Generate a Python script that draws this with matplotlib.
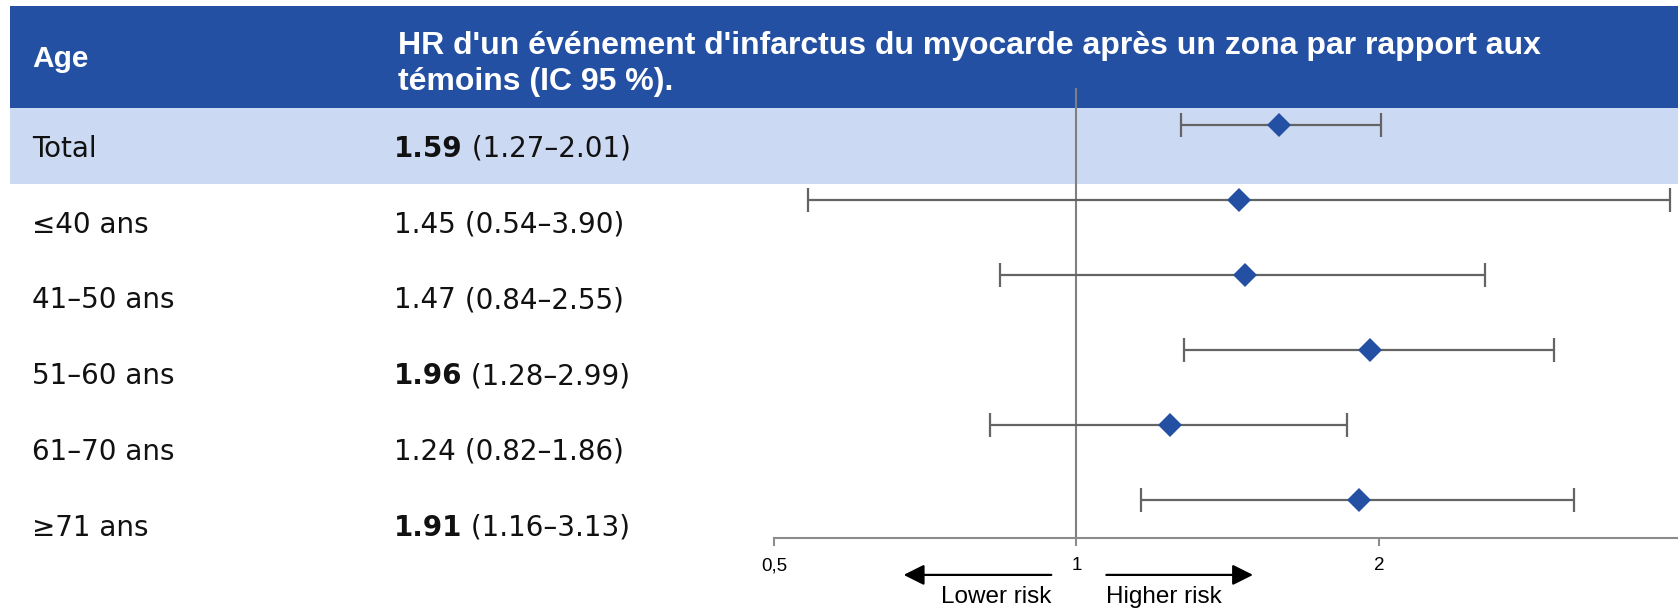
import numpy as np
import matplotlib
matplotlib.use('Agg')
import matplotlib.pyplot as plt
from matplotlib.patches import Rectangle

# data
groups = ['Total', '≤40 ans', '41–50 ans', '51–60 ans', '61–70 ans', '≥71 ans']
hr = np.array([1.59, 1.45, 1.47, 1.96, 1.24, 1.91])
ci_low = np.array([1.27, 0.54, 0.84, 1.28, 0.82, 1.16])
ci_high = np.array([2.01, 3.90, 2.55, 2.99, 1.86, 3.13])
significant = [True, False, False, True, False, True]
x_ticks = [0.5, 1, 2]
x_ticklabels = ['0,5', '1', '2']

dark_blue = '#2450A4'
light_blue = '#CBD9F2'
gray = '#646464'

W, H = 1678, 610
fig = plt.figure(figsize=(W / 100, H / 100), dpi=100)

# background table axes in pixel units
bg = fig.add_axes([0, 0, 1, 1])
bg.set_xlim(0, W)
bg.set_ylim(H, 0)
bg.axis('off')

bg.add_patch(Rectangle((10, 6), W - 10, 102, color=dark_blue, lw=0))
bg.add_patch(Rectangle((10, 108), W - 10, 76, color=light_blue, lw=0))

bg.text(32, 59, 'Age', color='white', fontsize=21.5, fontweight='bold',
        family='Liberation Sans', va='center')
bg.text(398, 46, "HR d'un événement d'infarctus du myocarde après un zona par rapport aux",
        color='white', fontsize=23, fontweight='bold', family='Liberation Sans', va='center')
bg.text(398, 82, 'témoins (IC 95 %).', color='white', fontsize=23, fontweight='bold',
        family='Liberation Sans', va='center')

row_font = 'DejaVu Sans'
for i, g in enumerate(groups):
    y = 149 + 75.7 * i
    bg.text(32, y, g, fontsize=20, family=row_font, va='center', color='#111111')
    t = bg.text(394, y, f'{hr[i]:.2f}', fontsize=20, family=row_font, va='center',
                color='#111111', fontweight='bold' if significant[i] else 'normal')
    bg.annotate(f' ({ci_low[i]:.2f}–{ci_high[i]:.2f})', xy=(1, 0.5), xycoords=t,
                va='center', ha='left', fontsize=20, family=row_font, color='#111111')

# forest plot axes
ax = fig.add_axes([774 / W, (H - 538) / H, (W - 774) / W, 450 / H])
ax.patch.set_alpha(0)
ax.set_xscale('log', base=2)
ax.set_xlim(0.5, 3.97)
ax.set_ylim(len(groups) - 0.5, -0.493)
ypos = np.arange(len(groups))

ax.axvline(1, color='#7F7F7F', lw=1.5, zorder=1)
ax.errorbar(hr, ypos, xerr=[hr - ci_low, ci_high - hr], fmt='none',
            ecolor=gray, elinewidth=1.6, capsize=8.5, capthick=1.6, zorder=2)
ax.plot(hr, ypos, 'D', color=dark_blue, ms=12, mew=0, zorder=3, clip_on=False)

for s in ['top', 'right', 'left']:
    ax.spines[s].set_visible(False)
ax.spines['bottom'].set_color('#8C8C8C')
ax.spines['bottom'].set_linewidth(1.5)
ax.set_yticks([])
ax.set_xticks(x_ticks)
ax.set_xticklabels(x_ticklabels, family='Liberation Sans', fontsize=13.5)
ax.xaxis.set_minor_locator(matplotlib.ticker.NullLocator())
ax.tick_params(axis='x', direction='out', length=6, width=1.5, color='#8C8C8C', pad=8)

# risk arrows
arrow = dict(arrowstyle='-|>,head_length=0.5,head_width=0.25', lw=1.6,
             color='black', mutation_scale=25, shrinkA=0, shrinkB=0)
ax.annotate('', xy=(0.673, -0.082), xytext=(0.944, -0.082),
            xycoords=('data', 'axes fraction'), textcoords=('data', 'axes fraction'),
            arrowprops=arrow, annotation_clip=False)
ax.annotate('', xy=(1.499, -0.082), xytext=(1.071, -0.082),
            xycoords=('data', 'axes fraction'), textcoords=('data', 'axes fraction'),
            arrowprops=arrow, annotation_clip=False)
ax.text(0.944, -0.132, 'Lower risk', transform=ax.get_xaxis_transform(), ha='right',
        va='center', fontsize=17.5, family='Liberation Sans')
ax.text(1.071, -0.132, 'Higher risk', transform=ax.get_xaxis_transform(), ha='left',
        va='center', fontsize=17.5, family='Liberation Sans')

fig.savefig('out.png', dpi=100)
